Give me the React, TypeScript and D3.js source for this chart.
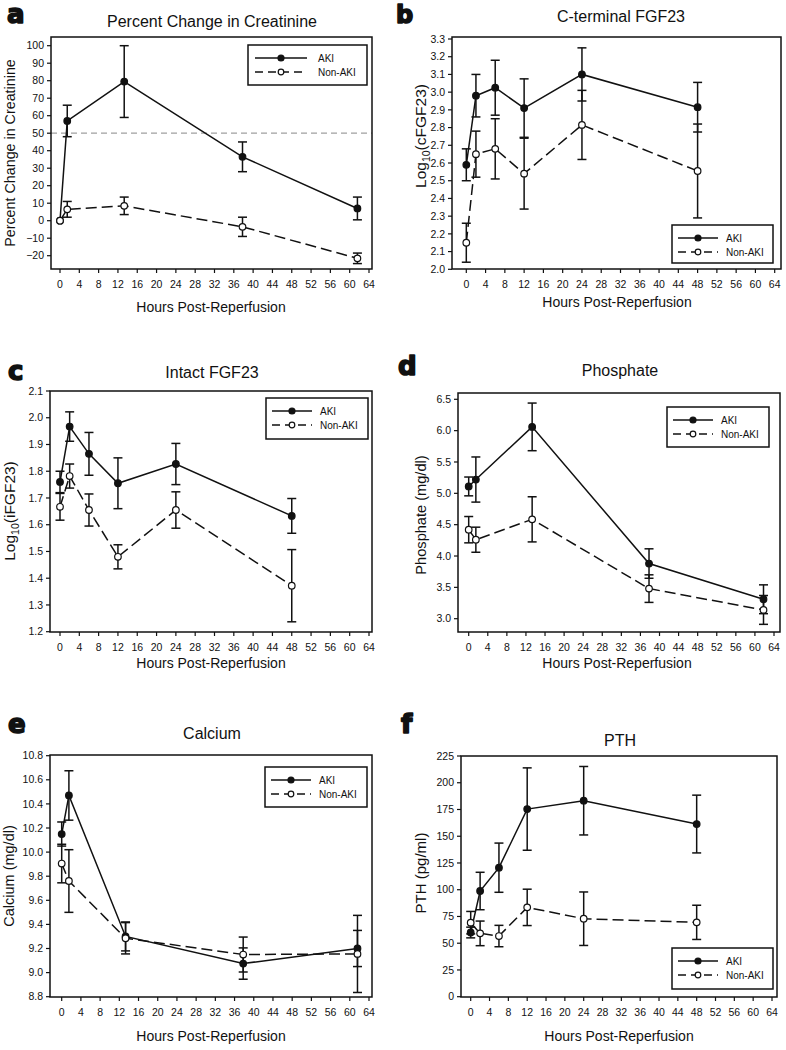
import React from 'react';
import * as d3 from 'd3';

// ---------- data ----------
const xTickLabels = [0, 4, 8, 12, 16, 20, 24, 28, 32, 36, 40, 44, 48, 52, 56, 60, 64];

const hoursCreat = [0, 1.5, 13.3, 37.8, 61.6];
const hoursPhos = [0, 1.5, 13.3, 37.8, 61.8];
const hoursCa = [0, 1.5, 13.3, 37.8, 61.6];
const hoursFGF = [0, 2, 6, 12, 24, 48];

const creatTicks = [-20, -10, 0, 10, 20, 30, 40, 50, 60, 70, 80, 90, 100];
const creatAKI = [0, 57, 79.5, 36.5, 7];
const creatAKIErr = [0, 9, 20.5, 8.5, 6.5];
const creatNon = [0, 6.5, 8.5, -3.5, -21.5];
const creatNonErr = [0, 4.5, 5, 5.5, 3];

const cfgfTicks = [2.0, 2.1, 2.2, 2.3, 2.4, 2.5, 2.6, 2.7, 2.8, 2.9, 3.0, 3.1, 3.2, 3.3];
const cfgfAKI = [2.59, 2.98, 3.025, 2.91, 3.1, 2.915];
const cfgfAKIErr = [0.09, 0.12, 0.155, 0.165, 0.15, 0.14];
const cfgfNon = [2.15, 2.65, 2.68, 2.54, 2.815, 2.555];
const cfgfNonErr = [0.11, 0.13, 0.17, 0.2, 0.195, 0.265];

const ifgfTicks = [1.2, 1.3, 1.4, 1.5, 1.6, 1.7, 1.8, 1.9, 2.0, 2.1];
const ifgfAKI = [1.76, 1.967, 1.865, 1.755, 1.827, 1.633];
const ifgfAKIErr = [0.04, 0.055, 0.08, 0.095, 0.077, 0.065];
const ifgfNon = [1.667, 1.782, 1.655, 1.48, 1.655, 1.372];
const ifgfNonErr = [0.05, 0.045, 0.06, 0.045, 0.068, 0.135];

const phosTicks = [3.0, 3.5, 4.0, 4.5, 5.0, 5.5, 6.0, 6.5];
const phosAKI = [5.11, 5.22, 6.06, 3.88, 3.31];
const phosAKIErr = [0.15, 0.36, 0.38, 0.235, 0.23];
const phosNon = [4.42, 4.26, 4.585, 3.48, 3.14];
const phosNonErr = [0.21, 0.2, 0.36, 0.22, 0.23];

const caTicks = [8.8, 9.0, 9.2, 9.4, 9.6, 9.8, 10.0, 10.2, 10.4, 10.6, 10.8];
const caAKI = [10.15, 10.47, 9.3, 9.075, 9.2];
const caAKIErr = [0.1, 0.205, 0.12, 0.13, 0.15];
const caNon = [9.905, 9.76, 9.285, 9.15, 9.155];
const caNonErr = [0.16, 0.26, 0.13, 0.145, 0.32];

const pthTicks = [0, 25, 50, 75, 100, 125, 150, 175, 200, 225];
const pthAKI = [60, 98.8, 120.6, 175.4, 183.2, 161.4];
const pthAKIErr = [5, 17.5, 23, 38.5, 32, 27];
const pthNon = [69.2, 59.2, 56.7, 83.5, 72.9, 69.5];
const pthNonErr = [10.5, 11.5, 10, 17, 25, 16];

const seriesNames = ['AKI', 'Non-AKI'];

// ---------- layout ----------
type Panel = {
  letter: string; letterX: number; letterY: number; letterSize: number;
  title: string; titleX: number; titleY: number;
  yLabel: React.ReactNode; yLabelX: number; yLabelY: number; yLabelSize: number;
  xLabelX: number; xLabelY: number;
  frame: [number, number, number, number];
  xr: [number, number];
  yr: [number, number];
  yTicks: number[]; yFmt: string;
  hours: number[];
  aki: number[]; akiErr: number[]; non: number[]; nonErr: number[];
  legend: [number, number, number, number]; wideLegend?: boolean;
  refLine?: number;
};

const FONT = "'Liberation Sans', Arial, Helvetica, sans-serif";
const INK = '#111';

const log10Label = (inner: string) => (
  <>
    Log<tspan fontSize={10.5} dy={3.5}>10</tspan>
    <tspan dy={-3.5}>{inner}</tspan>
  </>
);

const panels: Panel[] = [
  {
    letter: 'a', letterX: 7, letterY: 23, letterSize: 26,
    title: 'Percent Change in Creatinine', titleX: 212, titleY: 27,
    yLabel: 'Percent Change in Creatinine', yLabelX: 9.5, yLabelY: 153, yLabelSize: 14.3,
    xLabelX: 211, xLabelY: 307,
    frame: [51, 37, 372, 269], xr: [60, 369], yr: [255.7, 45.7],
    yTicks: creatTicks, yFmt: 'd',
    hours: hoursCreat, aki: creatAKI, akiErr: creatAKIErr, non: creatNon, nonErr: creatNonErr,
    legend: [248, 45, 119, 40], wideLegend: true, refLine: 50,
  },
  {
    letter: 'b', letterX: 396, letterY: 23, letterSize: 24,
    title: 'C-terminal FGF23', titleX: 621, titleY: 21.5,
    yLabel: log10Label('(cFGF23)'), yLabelX: 421, yLabelY: 136, yLabelSize: 15.5,
    xLabelX: 617, xLabelY: 302,
    frame: [452, 37, 781, 269], xr: [466.3, 774.7], yr: [269.3, 39],
    yTicks: cfgfTicks, yFmt: '.1f',
    hours: hoursFGF, aki: cfgfAKI, akiErr: cfgfAKIErr, non: cfgfNon, nonErr: cfgfNonErr,
    legend: [672, 225, 101, 38],
  },
  {
    letter: 'c', letterX: 8, letterY: 380, letterSize: 26,
    title: 'Intact FGF23', titleX: 212, titleY: 377.5,
    yLabel: log10Label('(iFGF23)'), yLabelX: 10, yLabelY: 511, yLabelSize: 15.5,
    xLabelX: 211, xLabelY: 663,
    frame: [50, 391, 372, 632], xr: [60, 369], yr: [631.7, 391],
    yTicks: ifgfTicks, yFmt: '.1f',
    hours: hoursFGF, aki: ifgfAKI, akiErr: ifgfAKIErr, non: ifgfNon, nonErr: ifgfNonErr,
    legend: [266, 398, 102, 41],
  },
  {
    letter: 'd', letterX: 398, letterY: 375, letterSize: 26,
    title: 'Phosphate', titleX: 620, titleY: 376,
    yLabel: 'Phosphate (mg/dl)', yLabelX: 421, yLabelY: 515, yLabelSize: 14.6,
    xLabelX: 617, xLabelY: 663,
    frame: [458, 393, 780, 632], xr: [468.7, 774], yr: [618.7, 399.3],
    yTicks: phosTicks, yFmt: '.1f',
    hours: hoursPhos, aki: phosAKI, akiErr: phosAKIErr, non: phosNon, nonErr: phosNonErr,
    legend: [667, 407, 102, 40],
  },
  {
    letter: 'e', letterX: 8, letterY: 733, letterSize: 26,
    title: 'Calcium', titleX: 212, titleY: 738.5,
    yLabel: 'Calcium (mg/dl)', yLabelX: 8.5, yLabelY: 876, yLabelSize: 14.5,
    xLabelX: 211, xLabelY: 1036,
    frame: [50, 755, 372, 997], xr: [61.7, 369], yr: [996.7, 755.7],
    yTicks: caTicks, yFmt: '.1f',
    hours: hoursCa, aki: caAKI, akiErr: caAKIErr, non: caNon, nonErr: caNonErr,
    legend: [265, 767, 102, 40],
  },
  {
    letter: 'f', letterX: 401, letterY: 733, letterSize: 26,
    title: 'PTH', titleX: 620, titleY: 745.5,
    yLabel: 'PTH (pg/ml)', yLabelX: 420.5, yLabelY: 873, yLabelSize: 15,
    xLabelX: 619, xLabelY: 1036.5,
    frame: [461, 756, 777, 997], xr: [470.7, 772], yr: [996.7, 756],
    yTicks: pthTicks, yFmt: 'd',
    hours: hoursFGF, aki: pthAKI, akiErr: pthAKIErr, non: pthNon, nonErr: pthNonErr,
    legend: [672, 948, 101, 41],
  },
];

const DASH = '11,5';
const R = 3.3;
const CAP = 4.5;

function ErrorBars({ hours, vals, errs, x, y }: any) {
  return (
    <g stroke={INK} strokeWidth={1.5}>
      {vals.map((v: number, i: number) => {
        const e = errs[i];
        if (!e) return null;
        const cx = x(hours[i]);
        const y1 = y(v + e), y2 = y(v - e);
        return (
          <g key={i}>
            <line x1={cx} x2={cx} y1={y1} y2={y2} />
            <line x1={cx - CAP} x2={cx + CAP} y1={y1} y2={y1} />
            <line x1={cx - CAP} x2={cx + CAP} y1={y2} y2={y2} />
          </g>
        );
      })}
    </g>
  );
}

function SeriesLine({ hours, vals, x, y, open }: any) {
  const line = d3.line<number>().x((_, i) => x(hours[i])).y((v) => y(v));
  return (
    <path d={line(vals) || ''} fill="none" stroke={INK} strokeWidth={1.5}
      strokeDasharray={open ? DASH : undefined} />
  );
}

function Markers({ hours, vals, x, y, open }: any) {
  return (
    <g>
      {vals.map((v: number, i: number) => (
        <circle key={i} cx={x(hours[i])} cy={y(v)} r={R}
          fill={open ? '#fff' : INK} stroke={INK} strokeWidth={1.2} />
      ))}
    </g>
  );
}

function Legend({ box, wide }: { box: [number, number, number, number]; wide?: boolean }) {
  const [lx, ly, lw, lh] = box;
  const l0 = wide ? 7 : 6, l1 = wide ? 59 : 46, m = wide ? 33 : 26, t = wide ? 70 : 54;
  const rows = [13, 27];
  return (
    <g>
      <rect x={lx} y={ly} width={lw} height={lh} fill="#fff" stroke={INK} strokeWidth={1.5} />
      {seriesNames.map((name, i) => (
        <g key={name}>
          <line x1={lx + l0} x2={lx + l1} y1={ly + rows[i]} y2={ly + rows[i]} stroke={INK}
            strokeWidth={1.5} strokeDasharray={i === 1 ? '8,5' : undefined} />
          <circle cx={lx + m} cy={ly + rows[i]} r={i === 0 ? 3 : 2.8} fill={i === 0 ? INK : '#fff'}
            stroke={INK} strokeWidth={1.2} />
          <text x={lx + t} y={ly + rows[i]} dy="0.35em" fontSize={10} fill={INK}>{name}</text>
        </g>
      ))}
    </g>
  );
}

function PanelView({ p }: { p: Panel }) {
  const [l, t, r, b] = p.frame;
  const x = d3.scaleLinear().domain([0, 64]).range(p.xr);
  const y = d3.scaleLinear()
    .domain([p.yTicks[0], p.yTicks[p.yTicks.length - 1]])
    .range(p.yr);
  const fmt = d3.format(p.yFmt);
  return (
    <g fontFamily={FONT}>
      <text x={p.letterX} y={p.letterY} fontSize={p.letterSize} fontWeight={900} fill={INK}
        stroke={INK} strokeWidth={1.6} strokeLinejoin="round"
        fontFamily="'DejaVu Sans', sans-serif">{p.letter}</text>
      <text x={p.titleX} y={p.titleY} fontSize={16} textAnchor="middle" fill={INK}>{p.title}</text>
      {p.refLine !== undefined && (
        <line x1={l} x2={r} y1={y(p.refLine)} y2={y(p.refLine)} stroke="#a0a0a0"
          strokeWidth={1.3} strokeDasharray="6,4" />
      )}
      {xTickLabels.map((v) => (
        <g key={'x' + v}>
          <line x1={x(v)} x2={x(v)} y1={b} y2={b + 4} stroke={INK} strokeWidth={1.2} />
          <text x={x(v)} y={b + 19} fontSize={10.5} textAnchor="middle" fill={INK}>{v}</text>
        </g>
      ))}
      {p.yTicks.map((v) => (
        <g key={'y' + v}>
          <line x1={l - 4} x2={l} y1={y(v)} y2={y(v)} stroke={INK} strokeWidth={1.2} />
          <text x={l - 7} y={y(v)} dy="0.35em" fontSize={10.5} textAnchor="end" fill={INK}>{fmt(v)}</text>
        </g>
      ))}
      <ErrorBars hours={p.hours} vals={p.non} errs={p.nonErr} x={x} y={y} />
      <ErrorBars hours={p.hours} vals={p.aki} errs={p.akiErr} x={x} y={y} />
      <SeriesLine hours={p.hours} vals={p.non} x={x} y={y} open />
      <SeriesLine hours={p.hours} vals={p.aki} x={x} y={y} />
      <Markers hours={p.hours} vals={p.aki} x={x} y={y} />
      <Markers hours={p.hours} vals={p.non} x={x} y={y} open />
      <rect x={l} y={t} width={r - l} height={b - t} fill="none" stroke={INK} strokeWidth={1.5} />
      <Legend box={p.legend} wide={p.wideLegend} />
      <text x={p.xLabelX} y={p.xLabelY} dy="0.35em" fontSize={14} textAnchor="middle" fill={INK}>
        Hours Post-Reperfusion
      </text>
      <text transform={`translate(${p.yLabelX},${p.yLabelY}) rotate(-90)`} dy="0.35em"
        fontSize={p.yLabelSize} textAnchor="middle" fill={INK}>{p.yLabel}</text>
    </g>
  );
}

export default function App() {
  return (
    <svg width={786} height={1050} viewBox="0 0 786 1050"
      style={{ position: 'absolute', left: 0, top: 0, background: '#fff' }}>
      <rect x={0} y={0} width={786} height={1050} fill="#fff" />
      {panels.map((p) => <PanelView key={p.letter} p={p} />)}
    </svg>
  );
}
